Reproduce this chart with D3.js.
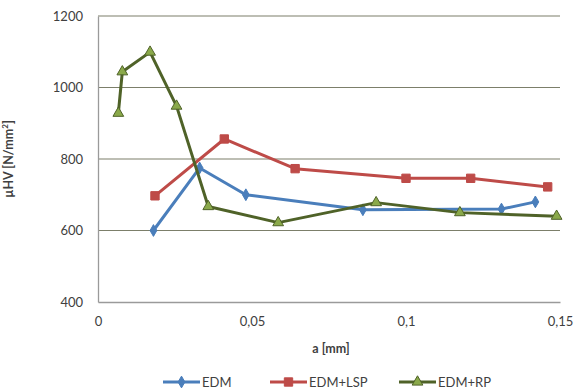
<!DOCTYPE html>
<html>
<head>
<meta charset="utf-8">
<script src="https://cdn.jsdelivr.net/npm/d3@7"></script>
<style>
  body { margin: 0; background: #fff; }
  svg { display: block; font-family: Lato, "Open Sans", sans-serif; }
</style>
</head>
<body>
<div id="chart"></div>
<script>
// values
const edm = [
    [0.018, 600], [0.033, 775], [0.048, 700], [0.086, 658], [0.131, 660], [0.142, 680],
];
const edmLsp = [
    [0.0185, 697], [0.041, 856], [0.064, 773], [0.100, 746], [0.121, 746], [0.146, 722],
];
const edmRp = [
    [0.0066, 928], [0.0079, 1044], [0.0169, 1099], [0.0255, 948], [0.0358, 667],
    [0.0585, 622], [0.0903, 678], [0.1175, 650], [0.1489, 640],
];
const xTicks = [0, 0.05, 0.1, 0.15];
const yTicks = [400, 600, 800, 1000, 1200];

const width = 575;
const height = 389;
const margin = { top: 16, right: 15, bottom: 87, left: 98 };

const x = d3.scaleLinear().domain([0, 0.15]).range([margin.left, width - margin.right]);
const y = d3.scaleLinear().domain([400, 1200]).range([height - margin.bottom, margin.top]);

const svg = d3.select("#chart").append("svg").attr("width", width).attr("height", height);

// gridlines
svg.append("g")
    .selectAll("line")
    .data(yTicks.filter(d => d > 400))
    .join("line")
    .attr("x1", x(0))
    .attr("x2", x(0.15))
    .attr("y1", d => y(d))
    .attr("y2", d => y(d))
    .attr("stroke", "#7c7f6a")
    .attr("stroke-width", 1.2);

// axes
const yAxis = svg.append("g")
    .attr("transform", `translate(${x(0)},0)`)
    .call(d3.axisLeft(y).tickValues(yTicks).tickSize(0).tickPadding(15).tickFormat(d3.format("d")));
const xAxis = svg.append("g")
    .attr("transform", `translate(0,${y(400)})`)
    .call(
        d3.axisBottom(x)
            .tickValues(xTicks)
            .tickSize(0)
            .tickPadding(15)
            .tickFormat(d => String(d).replace(".", ","))
    );
[yAxis, xAxis].forEach(a => {
    a.select(".domain").attr("stroke", "#9a9a9a").attr("stroke-width", 1.3);
    a.selectAll("text").attr("font-size", 13).attr("fill", "#404040").attr("font-family", "Lato, sans-serif");
});

svg.append("text")
    .attr("x", (x(0) + x(0.15)) / 2 + 2)
    .attr("y", 353)
    .attr("text-anchor", "middle")
    .attr("font-size", 12.5)
    .attr("font-weight", "bold")
    .attr("fill", "#404040")
    .text("a [mm]");

const yTitle = svg.append("text")
    .attr("transform", `translate(13,${(y(400) + y(1200)) / 2}) rotate(-90)`)
    .attr("text-anchor", "middle")
    .attr("font-size", 12.5)
    .attr("font-weight", "bold")
    .attr("fill", "#404040");
yTitle.append("tspan").text("µHV [N/mm");
yTitle.append("tspan").attr("font-size", 8).attr("dy", -5).text("2");
yTitle.append("tspan").attr("dy", 5).text("]");

const line = d3.line().x(d => x(d[0])).y(d => y(d[1]));

const series = [
    { name: "EDM", data: edm, color: "#4a7ebb", fill: "#4a7ebb", marker: d3.symbolDiamond, size: 40 },
    { name: "EDM+LSP", data: edmLsp, color: "#be4b48", fill: "#be4b48", marker: d3.symbolSquare, size: 70 },
    { name: "EDM+RP", data: edmRp, color: "#4f6228", fill: "#8aa94a", marker: d3.symbolTriangle, size: 50 },
];

series.forEach(s => {
    svg.append("path")
        .datum(s.data)
        .attr("fill", "none")
        .attr("stroke", s.color)
        .attr("stroke-width", 3)
        .attr("stroke-linejoin", "round")
        .attr("d", line);
    svg.append("g")
        .selectAll("path")
        .data(s.data)
        .join("path")
        .attr("transform", d => `translate(${x(d[0])},${y(d[1])})`)
        .attr("d", d3.symbol().type(s.marker).size(s.size))
        .attr("fill", s.fill)
        .attr("stroke", s.color)
        .attr("stroke-width", 1);
});

// legend
const legendPos = [163, 270, 399];
const legend = svg.append("g").attr("transform", "translate(0,382)");
series.forEach((s, i) => {
    const g = legend.append("g").attr("transform", `translate(${legendPos[i]},0)`);
    g.append("line").attr("x1", 0).attr("x2", 37).attr("stroke", s.color).attr("stroke-width", 3);
    g.append("path")
        .attr("transform", "translate(18.5,0)")
        .attr("d", d3.symbol().type(s.marker).size(s.size))
        .attr("fill", s.fill)
        .attr("stroke", s.color);
    g.append("text")
        .attr("x", 39)
        .attr("y", 4.5)
        .attr("font-size", 13)
        .attr("fill", "#404040")
        .text(s.name);
});
</script>
</body>
</html>
